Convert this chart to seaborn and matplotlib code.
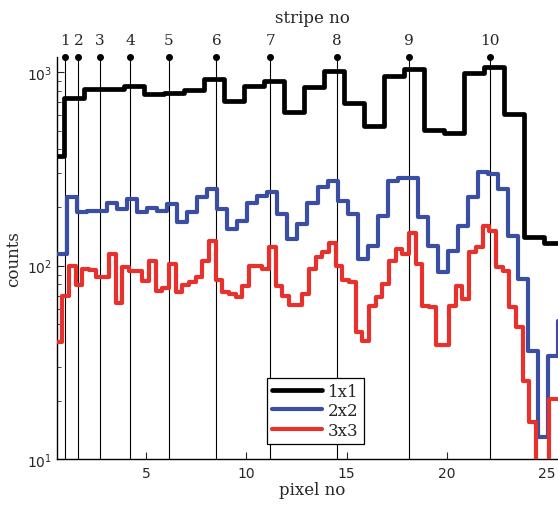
import numpy as np
import matplotlib
matplotlib.use('Agg')
import matplotlib.pyplot as plt
import seaborn as sns

# counts per bin
# 1x1: one bin per pixel, first bin starts at -0.13
black_vals = [370, 737, 820, 820, 847, 773, 782, 813, 924, 707,
              850, 897, 622, 837, 1013, 695, 530, 961, 1041, 505,
              486, 993, 1063, 609, 140, 131]
# 2x2: half-pixel bins, first bin starts at 0.55
blue_vals = [115, 227, 190, 192, 192, 211, 197, 221, 190, 199,
             192, 209, 168, 190, 227, 249, 197, 155, 170, 211,
             229, 241, 185, 138, 164, 211, 255, 274, 217, 185,
             108, 127, 181, 274, 284, 284, 179, 127, 93, 119,
             161, 227, 305, 298, 249, 143, 85, 36, 13, 34,
             52]
# 3x3: third-pixel bins, first bin starts at 0.46
red_vals = [40.3, 69.9, 100, 79.4, 96.1, 95.0, 87.4, 87.4, 115, 64.1,
            98.5, 93.9, 93.9, 83.3, 105.8, 74.0, 76.7, 102, 73.1, 79.4,
            82.3, 87.4, 105.8, 134.2, 84.3, 73.1, 71.4, 68.9, 78.5, 99.6,
            99.6, 96.1, 125, 78.5, 69.7, 62.6, 62.6, 71.4, 96.1, 110.9,
            117.8, 131.1, 99.6, 84.3, 82.3, 45.4, 40.8, 61.9, 68.9, 80.4,
            105.8, 122, 115, 147.6, 102, 61.9, 61.1, 38.9, 38.9, 61.9,
            78.5, 67.3, 117.8, 125, 160.5, 151.2, 98.5, 93.9, 61.1, 48.2,
            25.3, 15.5, 5, 5, 20.4, 20.4]

series = [
    ('1x1', black_vals, -0.13, 1.0, 'black', 3.4),
    ('2x2', blue_vals, 0.55, 0.5, '#3a4ea3', 3.0),
    ('3x3', red_vals, 0.46, 1 / 3, '#e8302c', 3.0),
]

stripe_pos = [0.93, 1.6, 2.66, 4.18, 6.12, 8.5, 11.18, 14.5, 18.1, 22.18]
stripe_labels = ['1', '2', '3', '4', '5', '6', '7', '8', '9', '10']

sns.set_style('ticks')
plt.rcParams['font.family'] = ['DejaVu Sans']
plt.rcParams['xtick.direction'] = 'in'
plt.rcParams['ytick.direction'] = 'in'
serif = {'family': 'DejaVu Serif', 'size': 12}

fig = plt.figure(figsize=(5.58, 5.06), dpi=100)
ax = fig.add_axes([57.3 / 558, 46 / 506, 510 / 558, 402 / 506])

ymin, ymax = 10, 1200

# stripe positions
ax.vlines(stripe_pos, ymin, ymax, color='black', lw=0.8, zorder=1)
ax.plot(stripe_pos, [ymax] * len(stripe_pos), 'o', color='black', ms=4,
        clip_on=False, zorder=5)

for name, vals, start, width, col, lw in series:
    x = start + width * np.arange(len(vals) + 1)
    y = list(vals) + [vals[-1]]
    sns.lineplot(x=x, y=y, ax=ax, color=col, lw=lw, label=name,
                 drawstyle='steps-post', estimator=None, sort=False, zorder=3)

ax.set_yscale('log')
ax.set_ylim(ymin, ymax)
ax.set_xlim(0.55, 26.03)
ax.set_xticks([5, 10, 15, 20, 25])
ax.tick_params(axis='both', which='major', length=5, labelsize=10)
ax.tick_params(axis='y', which='minor', length=3)
ax.tick_params(axis='x', which='major', pad=5)
for s in ['top', 'right']:
    ax.spines[s].set_visible(False)
for s in ['left', 'bottom']:
    ax.spines[s].set_linewidth(1.0)
    ax.spines[s].set_color('black')

ax.set_xlabel('pixel no', fontdict=serif)
ax.xaxis.set_label_coords(0.5, -0.055)
ax.set_ylabel('counts', fontdict=serif)
ax.yaxis.set_label_coords(-0.069, 0.5)

# stripe numbers on top
sec = ax.secondary_xaxis('top')
sec.set_xticks(stripe_pos, labels=stripe_labels)
sec.tick_params(length=0, pad=7)
for lab in sec.get_xticklabels():
    lab.set_fontfamily('DejaVu Serif')
    lab.set_fontsize(11)
sec.spines['top'].set_visible(False)
sec.set_xlabel('stripe no', fontdict=serif, labelpad=8)

leg = ax.legend(loc='lower left', bbox_to_anchor=(0.394, 0.017),
                frameon=True, fancybox=False, framealpha=1,
                edgecolor='black', handlelength=3.0, handletextpad=0.4,
                borderpad=0.3, labelspacing=0.15,
                prop={'family': 'DejaVu Serif', 'size': 12})
leg.get_frame().set_linewidth(0.9)

fig.savefig('out.png', dpi=100)
